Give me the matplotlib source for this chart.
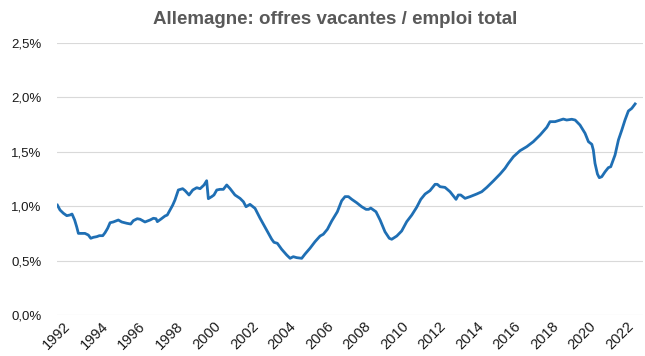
import matplotlib.pyplot as plt
from matplotlib.ticker import FuncFormatter

plt.rcParams['font.family'] = ['Liberation Sans', 'DejaVu Sans']

# date (fractional year) and vacancies / total employment (%)
dates = [1992.02, 1992.16, 1992.34, 1992.52, 1992.69, 1992.80, 1992.94, 1993.05, 1993.14, 1993.32,
         1993.49, 1993.67, 1993.80, 1993.94, 1994.12, 1994.26, 1994.44, 1994.56, 1994.70, 1994.83,
         1995.00, 1995.27, 1995.45, 1995.72, 1995.93, 1996.07, 1996.28, 1996.43, 1996.69, 1996.96,
         1997.14, 1997.28, 1997.35, 1997.53, 1997.76, 1997.88, 1998.03, 1998.17, 1998.29, 1998.47,
         1998.70, 1998.83, 1999.04, 1999.24, 1999.45, 1999.63, 1999.84, 1999.98, 2000.07, 2000.25,
         2000.37, 2000.52, 2000.69, 2000.87, 2001.05, 2001.23, 2001.49, 2001.76, 2001.94, 2002.08,
         2002.29, 2002.56, 2002.83, 2003.18, 2003.45, 2003.57, 2003.75, 2003.98, 2004.25, 2004.43,
         2004.60, 2004.78, 2005.05, 2005.23, 2005.49, 2005.76, 2006.03, 2006.20, 2006.42, 2006.65,
         2006.95, 2007.18, 2007.36, 2007.54, 2007.72, 2007.98, 2008.25, 2008.48, 2008.62, 2008.73,
         2009.01, 2009.23, 2009.49, 2009.72, 2009.85, 2010.12, 2010.38, 2010.65, 2010.92, 2011.18,
         2011.40, 2011.63, 2011.89, 2012.16, 2012.28, 2012.43, 2012.69, 2012.96, 2013.17, 2013.28,
         2013.40, 2013.53, 2013.76, 2014.03, 2014.38, 2014.65, 2014.92, 2015.27, 2015.63, 2015.89,
         2016.07, 2016.34, 2016.69, 2017.05, 2017.40, 2017.76, 2018.12, 2018.29, 2018.56, 2018.83,
         2019.00, 2019.18, 2019.45, 2019.63, 2019.89, 2020.16, 2020.34, 2020.52, 2020.60, 2020.69,
         2020.82, 2020.92, 2021.05, 2021.23, 2021.40, 2021.53, 2021.76, 2021.94, 2022.12, 2022.29,
         2022.47, 2022.65, 2022.83]
values = [1.01, 0.965, 0.935, 0.913, 0.919, 0.928, 0.873, 0.81, 0.75, 0.75,
          0.75, 0.735, 0.705, 0.714, 0.72, 0.729, 0.729, 0.756, 0.797, 0.848,
          0.855, 0.873, 0.855, 0.843, 0.836, 0.867, 0.885, 0.88, 0.855, 0.873,
          0.889, 0.885, 0.858, 0.88, 0.91, 0.919, 0.965, 1.01, 1.057, 1.149,
          1.161, 1.143, 1.103, 1.149, 1.17, 1.161, 1.195, 1.234, 1.069, 1.088,
          1.103, 1.149, 1.155, 1.155, 1.195, 1.161, 1.103, 1.072, 1.041, 0.995,
          1.017, 0.98, 0.889, 0.781, 0.696, 0.668, 0.659, 0.604, 0.551, 0.521,
          0.536, 0.527, 0.521, 0.561, 0.613, 0.674, 0.726, 0.742, 0.788, 0.864,
          0.949, 1.05, 1.088, 1.088, 1.063, 1.032, 0.995, 0.971, 0.971, 0.983,
          0.949, 0.873, 0.765, 0.705, 0.696, 0.726, 0.772, 0.858, 0.919, 0.99,
          1.063, 1.112, 1.143, 1.201, 1.201, 1.179, 1.173, 1.133, 1.088, 1.063,
          1.103, 1.103, 1.072, 1.088, 1.112, 1.133, 1.173, 1.232, 1.296, 1.348,
          1.394, 1.455, 1.51, 1.547, 1.593, 1.654, 1.725, 1.777, 1.777, 1.792,
          1.801, 1.792, 1.799, 1.792, 1.746, 1.67, 1.593, 1.569, 1.517, 1.394,
          1.296, 1.262, 1.271, 1.317, 1.354, 1.363, 1.471, 1.609, 1.7, 1.792,
          1.875, 1.899, 1.94]

year_ticks = list(range(1992, 2023, 2))
y_ticks = [0.0, 0.5, 1.0, 1.5, 2.0, 2.5]

fig = plt.figure(figsize=(6.45, 3.56), dpi=100)
ax = fig.add_axes([0.0884, 0.1152, 0.9085, 0.764])

ax.plot(dates, values, color='#1f6fb4', linewidth=2.0, solid_joinstyle='round')

ax.set_xlim(1992, 2023.25)
ax.set_ylim(0, 2.5)
ax.set_yticks(y_ticks)
ax.yaxis.set_major_formatter(FuncFormatter(lambda v, p: f'{v:.1f}%'.replace('.', ',')))
ax.set_xticks(year_ticks)
ax.set_xticklabels([str(y) for y in year_ticks], rotation=45, ha='center', va='top')

ax.grid(axis='y', color='#d9d9d9', linewidth=0.8)
ax.set_axisbelow(True)
for s in ax.spines.values():
    s.set_visible(False)
ax.tick_params(axis='both', length=0, labelsize=9.5, colors='#1a1a1a')
ax.tick_params(axis='x', labelsize=10.5, pad=3)
ax.tick_params(axis='y', pad=11)

fig.suptitle('Allemagne: offres vacantes / emploi total', x=0.52, y=0.968,
             fontsize=13.5, fontweight='bold', color='#595959')

plt.savefig('out.png', dpi=100, facecolor='white')
